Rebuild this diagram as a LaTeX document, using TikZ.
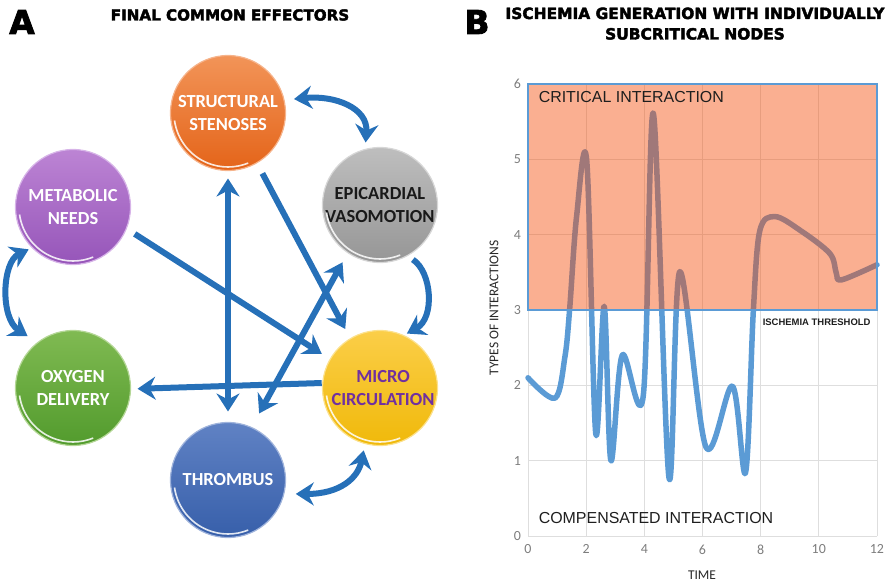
\documentclass[tikz,border=0pt]{standalone}
\usepackage{fontspec}
\setmainfont{Carlito}
\newfontfamily\heavy{DejaVu Sans}[BoldFeatures={FakeBold=2.6}]
\newfontfamily\arial{Liberation Sans}
\usetikzlibrary{arrows.meta,calc}

\definecolor{arrowblue}{RGB}{38,112,184}
\definecolor{curveblue}{RGB}{91,155,213}
\definecolor{critical}{RGB}{244,78,11}
\definecolor{microtext}{RGB}{112,48,160}
\definecolor{ticktext}{RGB}{125,125,125}
\definecolor{gridgray}{RGB}{222,222,222}

\tikzset{
  headtip/.tip={Stealth[length=18bp,width=23bp,inset=6bp]},
  link/.style={draw=arrowblue, line width=6bp, -headtip},
  twoway/.style={draw=arrowblue, line width=6bp, headtip-headtip},
  ball/.style={circle, minimum size=115bp, inner sep=0pt, outer sep=0pt,
    align=center, text=white, font=\bfseries\fontsize{18.5}{22.5}\selectfont},
  rim/.style={white, line width=1.6bp, opacity=0.85},
  tick/.style={text=ticktext, font=\fontsize{14}{16}\selectfont},
  heading/.style={font=\heavy\bfseries\fontsize{15.2}{19}\selectfont, inner sep=0pt, anchor=base},
  bigletter/.style={font=\heavy\bfseries\fontsize{33}{33}\selectfont},
}

\begin{document}
\begin{tikzpicture}[x=1bp,y=1bp]
\useasboundingbox (0,0) rectangle (889,-581);

% ---------- panel A : effector spheres ----------
\node[bigletter] (labA) at (22,-22) {A};
\node[heading] (titA) at (230,-20.5) {FINAL COMMON EFFECTORS};

\node[ball, top color={rgb,255:red,242;green,148;blue,88}, bottom color={rgb,255:red,228;green,100;blue,25},
  draw={rgb,255:red,246;green,180;blue,140}, line width=1.2bp] (stru) at (228,-113) {STRUCTURAL\\STENOSES};
\node[ball, text={rgb,255:red,25;green,25;blue,25}, top color={rgb,255:red,190;green,190;blue,190}, bottom color={rgb,255:red,150;green,150;blue,150},
  draw={rgb,255:red,215;green,215;blue,215}, line width=1.2bp] (epi) at (380,-205) {EPICARDIAL\\VASOMOTION};
\node[ball, top color={rgb,255:red,188;green,132;blue,212}, bottom color={rgb,255:red,150;green,85;blue,185},
  draw={rgb,255:red,215;green,180;blue,232}, line width=1.2bp] (meta) at (73,-207) {METABOLIC\\NEEDS};
\node[ball, top color={rgb,255:red,128;green,186;blue,82}, bottom color={rgb,255:red,82;green,155;blue,45},
  draw={rgb,255:red,180;green,215;blue,150}, line width=1.2bp] (oxy) at (73,-388) {OXYGEN\\DELIVERY};
\node[ball, top color={rgb,255:red,96;green,130;blue,196}, bottom color={rgb,255:red,55;green,95;blue,170},
  draw={rgb,255:red,160;green,180;blue,220}, line width=1.2bp] (thr) at (228,-480) {THROMBUS};
\node[ball, text=microtext, top color={rgb,255:red,251;green,206;blue,72}, bottom color={rgb,255:red,240;green,185;blue,10},
  draw={rgb,255:red,252;green,225;blue,140}, line width=1.2bp] (micro) at (380,-388) {\hspace*{6bp}MICRO\\\hspace*{6bp}CIRCULATION};

% glossy highlights on the lower left of each sphere
\foreach \b in {stru,epi,meta,oxy,thr,micro}{
  \draw[rim] ($(\b.center)+(188:54bp)$) arc[start angle=188, end angle=292, radius=54bp];
}

% ---------- panel A : interactions ----------
\draw[twoway, shorten <=10bp, shorten >=7bp]
  (stru.13) .. controls (335,-95) and (368,-108) .. (epi.105);
\draw[twoway, shorten <=4bp, shorten >=12bp]
  (meta.225) .. controls (2,-262) and (0,-318) .. (oxy.128);
\draw[link, shorten <=7bp, shorten >=4bp]
  (epi.-62) .. controls (432,-272) and (435,-318) .. (micro.66);
\draw[twoway, shorten <=12bp, shorten >=7bp]
  (thr.-14) .. controls (340,-494) and (358,-478) .. (micro.255);
\draw[link, shorten <=10bp, shorten >=10bp] (meta.-22) -- (micro.150);
\draw[twoway, shorten <=8bp, shorten >=11bp] (stru.south) -- (thr.north);
\draw[link, shorten <=12bp, shorten >=11bp] (stru.-60) -- (micro.121);
\draw[link, shorten <=1bp, shorten >=7bp] (micro.175) -- (oxy.-1);
\draw[twoway, shorten <=16bp, shorten >=11bp] (thr.66) -- (epi.236);

% ---------- panel B : chart ----------
\node[bigletter] (labB) at (477,-22) {B};
\node[heading, font=\heavy\bfseries\fontsize{15.5}{19}\selectfont] (titB1) at (695,-19) {ISCHEMIA GENERATION WITH INDIVIDUALLY};
\node[heading, font=\heavy\bfseries\fontsize{15.5}{19}\selectfont] (titB2) at (695,-39.5) {SUBCRITICAL NODES};

\begin{scope}[shift={(528,-536)}, x=29.08bp, y=75.33bp]
  % grid
  \foreach \v in {0,2,...,12} \draw[gridgray, line width=0.8bp] (\v,0) -- (\v,6);
  \foreach \v in {0,...,6} \draw[gridgray, line width=0.8bp] (0,\v) -- (12,\v);
  % tick labels
  \foreach \v in {0,...,6} \node[tick, anchor=east] (yt\v) at (-0.12,\v) {\v};
  \foreach \v in {0,2,...,12} \node[tick, anchor=north] (xt\v) at (\v,-0.07) {\v};
  % interaction trace
  \draw[curveblue, line width=5.5bp, line cap=round, line join=round]
    plot[smooth, tension=0.55] coordinates {
      (0,2.1) (0.93,1.83) (1.27,2.38) (1.43,3.0) (1.67,4.24) (2.02,4.98)
      (2.33,1.36) (2.62,3.05) (2.85,1.0) (3.24,2.4) (3.96,1.85) (4.31,5.61)
      (4.85,0.77) (5.22,3.51) (6.12,1.18) (7.03,1.99) (7.48,0.84) (7.75,3.0)
      (7.97,4.05) (8.49,4.24) (9.35,4.06) (10.38,3.75) (10.6,3.49) (10.78,3.40) (12,3.6)};
  % critical zone
  \fill[critical, fill opacity=0.45] (0,3) rectangle (12,6);
  \draw[curveblue, line width=1.3bp] (0,3) rectangle (12,6);
  \node[anchor=west, font=\arial\fontsize{16}{18}\selectfont, text={rgb,255:red,30;green,30;blue,30}] (crit) at (0.25,5.83) {CRITICAL INTERACTION};
  \node[anchor=west, font=\arial\fontsize{16}{18}\selectfont, text={rgb,255:red,30;green,30;blue,30}] (comp) at (0.25,0.24) {COMPENSATED INTERACTION};
  \node[anchor=east, font=\arial\bfseries\fontsize{9.5}{11}\selectfont, text={rgb,255:red,30;green,30;blue,30}] (thresh) at (11.9,2.84) {ISCHEMIA THRESHOLD};
\end{scope}

\node[rotate=90, font=\fontsize{13.5}{15}\selectfont, text={rgb,255:red,40;green,40;blue,40}] (ylab) at (494,-308) {TYPES OF INTERACTIONS};
\node[font=\fontsize{13.5}{15}\selectfont, text={rgb,255:red,40;green,40;blue,40}] (xlab) at (702,-575) {TIME};
\end{tikzpicture}
\end{document}
